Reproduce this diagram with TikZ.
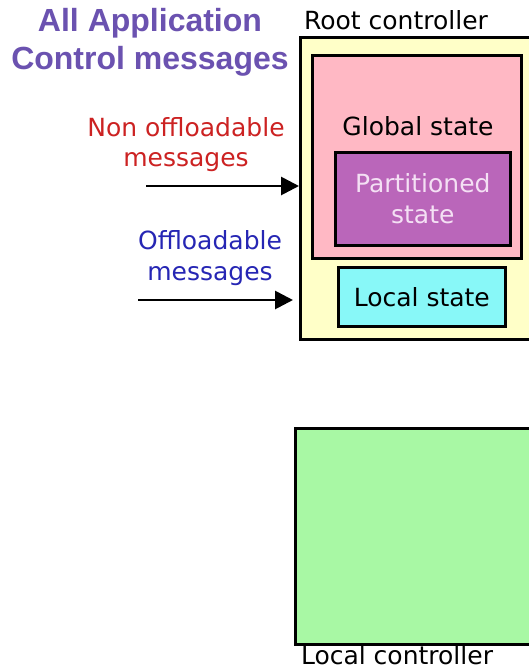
\documentclass[tikz,border=0pt]{standalone}
\usepackage{fontspec}
\setmainfont{DejaVu Sans}
\newfontfamily\titlefont{Liberation Sans}
\usetikzlibrary{arrows.meta}
\definecolor{rootyellow}{HTML}{FFFFC8}
\definecolor{globalpink}{HTML}{FFB8C4}
\definecolor{partpurple}{HTML}{BA66BA}
\definecolor{parttext}{HTML}{F4E0F4}
\definecolor{localcyan}{HTML}{88F8F8}
\definecolor{localgreen}{HTML}{A8F8A4}
\definecolor{titlepurple}{HTML}{6B52B0}
\definecolor{nonoffred}{HTML}{CC2222}
\definecolor{offblue}{HTML}{2626B4}
\tikzset{
  statebox/.style={draw=black, line width=2.6pt, rectangle, inner sep=0pt, anchor=north west},
  lbl/.style={font=\fontsize{25}{31}\selectfont, align=center, inner sep=0pt},
  msgarrow/.style={line width=2.8pt, -{Triangle[length=18pt,width=18pt]}}
}
\begin{document}
\begin{tikzpicture}[x=1pt,y=-1pt]
\useasboundingbox (0,0) rectangle (529,670);
\clip (0,0) rectangle (529,670);
\fill[white] (0,0) rectangle (529,670);

% root controller and its state stores
\node[statebox, fill=rootyellow, minimum width=260pt, minimum height=302pt] (root) at (299,36) {};
\node[statebox, fill=globalpink, minimum width=209pt, minimum height=203pt] (global) at (311,54) {};
\node[statebox, fill=partpurple, minimum width=175pt, minimum height=93pt] (part) at (334,151) {};
\node[statebox, fill=localcyan, minimum width=167pt, minimum height=59pt] (local) at (337,266) {};

\node[lbl] (rootlbl) at (396,20) {Root controller};
\node[lbl] (globallbl) at (418,126) {Global state};
\node[lbl, text=parttext] (partlbl) at (part.center) {Partitioned\\ state};
\node[lbl] (locallbl) at (local.center) {Local state};

% local controller
\node[statebox, fill=localgreen, minimum width=260pt, minimum height=216pt] (lc) at (294,427) {};
\node[font=\fontsize{25}{31}\selectfont, inner sep=0pt, anchor=base] (lclbl) at (397,664) {Local controller};

% title
\node[font=\titlefont\bfseries\fontsize{32}{38}\selectfont, text=titlepurple, align=center, inner sep=0pt] (title) at (150,42) {All Application\\Control messages};

% incoming message classes
\node[lbl, text=nonoffred, font=\fontsize{25}{30}\selectfont] (nonoff) at (186,145) {Non offloadable\\messages};
\node[lbl, text=offblue, font=\fontsize{25}{31}\selectfont] (off) at (210,258) {Offloadable\\messages};

\coordinate (a1s) at (146,186);
\coordinate (a2s) at (138,300);
\draw[msgarrow] (a1s) -- (a1s -| root.west);
\draw[msgarrow, shorten >=6pt] (a2s) -- (a2s -| root.west);
\end{tikzpicture}
\end{document}
